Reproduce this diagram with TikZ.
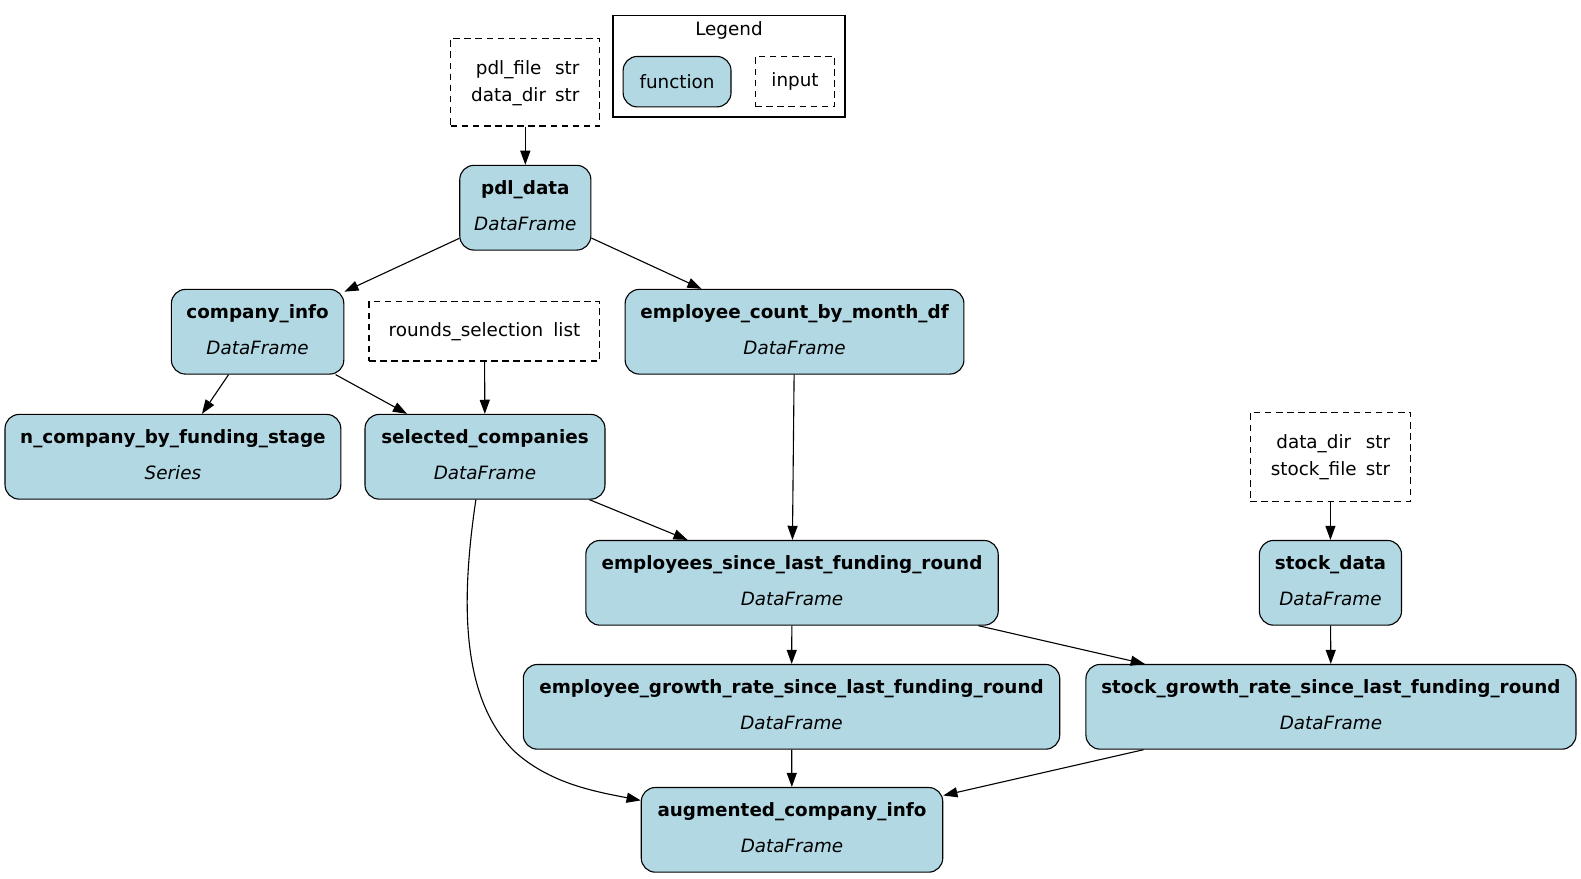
\documentclass[tikz,border=0pt]{standalone}
\usepackage{fontspec}
\setmainfont{DejaVu Sans}
\usetikzlibrary{arrows.meta,calc}
\definecolor{fnfill}{HTML}{B2D8E4}
\newcommand{\fnnode}[6]{%
  \node[fnbox, minimum width=#4pt] (#1) at (#2,#3) {};
  \node[fntext, font=\fontsize{18.2}{22}\selectfont\bfseries] (#1-t) at ($(#1.north)+(0,29)$) {#5};
  \node[fntext, font=\fontsize{18.2}{22}\selectfont\itshape] (#1-s) at ($(#1.north)+(0,65.5)$) {#6};
}
\begin{document}
\begin{tikzpicture}[x=1pt,y=-1pt,
  fnbox/.style={draw=black, fill=fnfill, rounded corners=14pt, line width=1.1pt, inner sep=0pt, minimum height=84pt},
  fntext/.style={anchor=base, inner sep=0pt},
  inbox/.style={draw=black, dash pattern=on 6.5pt off 4.5pt, line width=1.1pt, inner sep=0pt, font=\fontsize{18.2}{27}\selectfont},
  edge/.style={-{Triangle[length=14pt,width=10pt]}, line width=1.1pt}]
\useasboundingbox (0,0) rectangle (1568,871);

% legend
\node[draw=black, line width=1.1pt, minimum width=230pt, minimum height=101pt, inner sep=0pt] (lg) at (723,65.5) {};
\node[font=\fontsize{18.2}{22}\selectfont] (lgt) at (723,30) {Legend};
\node[fnbox, minimum width=107pt, minimum height=50pt, font=\fontsize{18.2}{22}\selectfont] (lgf) at (671.5,81) {function};
\node[inbox, minimum width=79pt, minimum height=50pt] (lgi) at (788.5,81) {input};

% inputs
\node[inbox, minimum width=148pt, minimum height=87pt] (in1) at (521,81.5)
  {\begin{tabular}{@{}c@{\hspace{9pt}}l@{}}pdl\_file & str\\ data\_dir & str\end{tabular}};
\node[inbox, minimum width=229pt, minimum height=59pt] (rs) at (480.5,328.5)
  {\begin{tabular}{@{}c@{\hspace{10pt}}l@{}}rounds\_selection & list\end{tabular}};
\node[inbox, minimum width=159pt, minimum height=88pt] (in3) at (1319.5,453)
  {\begin{tabular}{@{}c@{\hspace{9pt}}l@{}}data\_dir & str\\ stock\_file & str\end{tabular}};

% functions
\fnnode{pdl}{521}{206}{130}{pdl\_data}{DataFrame}
\fnnode{ci}{255.5}{329}{171}{company\_info}{DataFrame}
\fnnode{ecm}{788}{329}{336}{employee\_count\_by\_month\_df}{DataFrame}
\fnnode{ncf}{171.5}{453}{333}{n\_company\_by\_funding\_stage}{Series}
\fnnode{sc}{481}{453}{238}{selected\_companies}{DataFrame}
\fnnode{esl}{785.5}{578}{409}{employees\_since\_last\_funding\_round}{DataFrame}
\fnnode{sd}{1319.5}{578}{141}{stock\_data}{DataFrame}
\fnnode{egr}{785}{701}{532}{employee\_growth\_rate\_since\_last\_funding\_round}{DataFrame}
\fnnode{sgr}{1320}{701}{486}{stock\_growth\_rate\_since\_last\_funding\_round}{DataFrame}
\fnnode{aci}{785.5}{823}{299}{augmented\_company\_info}{DataFrame}

% edges
\draw[edge] (in1) -- (pdl);
\draw[edge] (pdl) -- (ci);
\draw[edge] (pdl) -- (ecm);
\draw[edge] (ci) -- (ncf);
\draw[edge] (ci) -- (sc);
\draw[edge] (rs) -- (sc);
\draw[edge] (ecm) -- (esl);
\draw[edge] (sc) -- (esl);
\coordinate (bend) at (510,745);
\draw[edge] (sc.258) .. controls (458,590) and (455,690) .. (bend)
  .. controls (545,777) and (590,785) .. (aci.169);
\draw[edge] (in3) -- (sd);
\draw[edge] (esl) -- (egr);
\draw[edge] (esl) -- (sgr);
\draw[edge] (sd) -- (sgr);
\draw[edge] (egr) -- (aci);
\draw[edge] (sgr) -- (aci);
\end{tikzpicture}
\end{document}
